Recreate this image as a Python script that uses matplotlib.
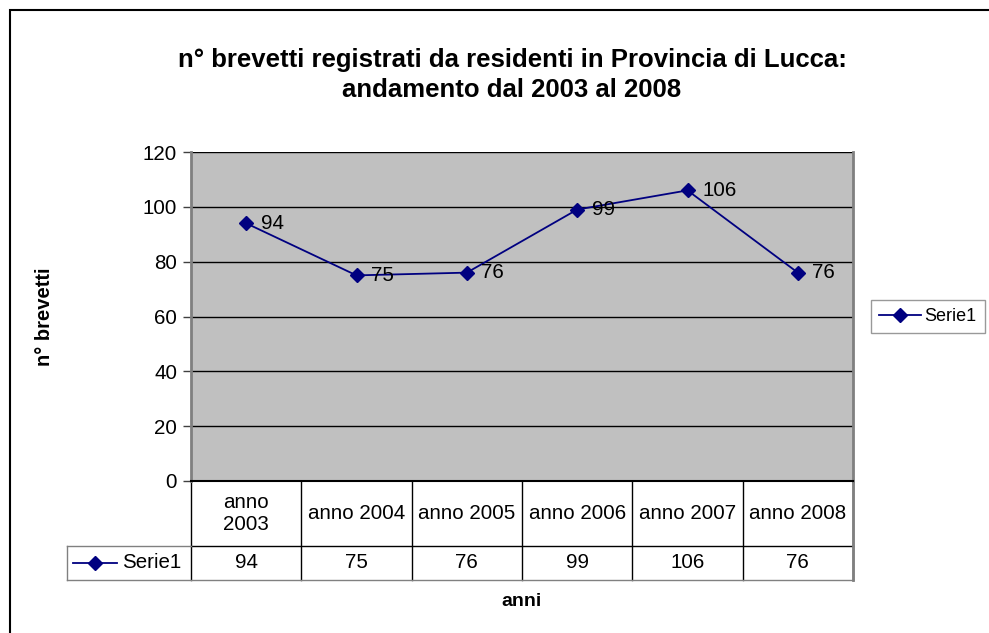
import matplotlib.pyplot as plt
from matplotlib.lines import Line2D
from matplotlib.patches import Rectangle
import matplotlib.transforms as mtransforms

plt.rcParams['font.family'] = ['Liberation Sans', 'DejaVu Sans']

# chart data
categories = ['anno\n2003', 'anno 2004', 'anno 2005', 'anno 2006', 'anno 2007', 'anno 2008']
values = [94, 75, 76, 99, 106, 76]
series_name = 'Serie1'
y_ticks = [0, 20, 40, 60, 80, 100, 120]

line_color = '#000080'
plot_bg = '#c0c0c0'
fs = 14.8
W, H = 989, 633

fig = plt.figure(figsize=(W / 100, H / 100), dpi=100)

# outer chart frame (right/bottom edges fall outside the picture)
fig.add_artist(Rectangle((9.5 / W, -0.1), 1.2, 1.1 - 10.5 / H, transform=fig.transFigure,
                         fill=False, edgecolor='black', lw=1.5))

left, right, top, bottom = 191, 853, 152, 481
ax = fig.add_axes([left / W, 1 - bottom / H, (right - left) / W, (bottom - top) / H])
ax.set_facecolor(plot_bg)

x = list(range(len(values)))
ax.plot(x, values, color=line_color, lw=1.3, marker='D', markersize=7, zorder=3)
for xi, v in zip(x, values):
    ax.annotate(str(v), (xi, v), xytext=(10.5, 0), textcoords='offset points',
                va='center', ha='left', fontsize=fs, zorder=4)

ax.set_xlim(-0.5, len(values) - 0.5)
ax.set_ylim(0, 120)
ax.set_yticks(y_ticks)
ax.set_xticks([])
ax.yaxis.grid(True, color='black', lw=1)
ax.set_axisbelow(True)
ax.tick_params(axis='y', length=6, width=1, color='#404040', labelsize=fs, pad=4)
for side in ['left', 'right', 'top']:
    ax.spines[side].set_color('#808080')
    ax.spines[side].set_linewidth(2)
ax.spines['top'].set_visible(False)
ax.spines['bottom'].set_color('black')
ax.spines['bottom'].set_linewidth(1.5)

# data table below the plot
trans = mtransforms.blended_transform_factory(ax.transData, ax.transAxes)
ph = bottom - top
head_b = -(546 - bottom) / ph
row_b = -(580 - bottom) / ph
first_x = -0.5 - (left - 67) / ((right - left) / len(values))
n = len(values)

def seg(xs, ys, color='black', lw=1):
    ax.add_line(Line2D(xs, ys, transform=trans, color=color, lw=lw, clip_on=False))

for i in range(n + 1):
    seg([i - 0.5, i - 0.5], [0, row_b])
seg([-0.5, n - 0.5], [head_b, head_b])
seg([first_x, -0.5], [head_b, head_b], color='#808080')
seg([first_x, n - 0.5], [row_b, row_b], color='#808080')
seg([first_x, first_x], [head_b, row_b], color='#808080')
seg([n - 0.5, n - 0.5], [0, row_b], color='#808080', lw=2)

for i, (c, v) in enumerate(zip(categories, values)):
    ax.text(i, head_b / 2, c, transform=trans, ha='center', va='center',
            fontsize=fs, linespacing=1.2)
    ax.text(i, (head_b + row_b) / 2, str(v), transform=trans, ha='center',
            va='center', fontsize=fs)

# series key inside the first table cell
kx0 = first_x + 6 / 110.3
kx1 = kx0 + 44 / 110.3
ky = (head_b + row_b) / 2
seg([kx0, kx1], [ky, ky], color=line_color, lw=1.3)
ax.plot([(kx0 + kx1) / 2], [ky], transform=trans, marker='D', markersize=7,
        color=line_color, clip_on=False)
ax.text(kx1 + 5 / 110.3, ky, series_name, transform=trans, ha='left', va='center',
        fontsize=fs)

# legend box on the right
leg = ax.legend([Line2D([], [], color=line_color, lw=1.3, marker='D', markersize=7)],
                [series_name], loc='center left', bbox_to_anchor=(871 / W, 1 - 316.5 / H),
                bbox_transform=fig.transFigure, fontsize=13, frameon=True, fancybox=False,
                handlelength=2.3, handletextpad=0.2, borderpad=0.45, borderaxespad=0)
leg.get_frame().set_edgecolor('#808080')
leg.get_frame().set_linewidth(1)

fig.text(512 / W, 1 - 75 / H,
         'n° brevetti registrati da residenti in Provincia di Lucca:\nandamento dal 2003 al 2008',
         ha='center', va='center', fontsize=18.5, fontweight='bold', linespacing=1.3)
fig.text(45 / W, 1 - 316.5 / H, 'n° brevetti', rotation=90, ha='center', va='center',
         fontsize=14.5, fontweight='bold')
fig.text(522 / W, 1 - 601 / H, 'anni', ha='center', va='center',
         fontsize=14, fontweight='bold')

fig.savefig('out.png', dpi=100)
